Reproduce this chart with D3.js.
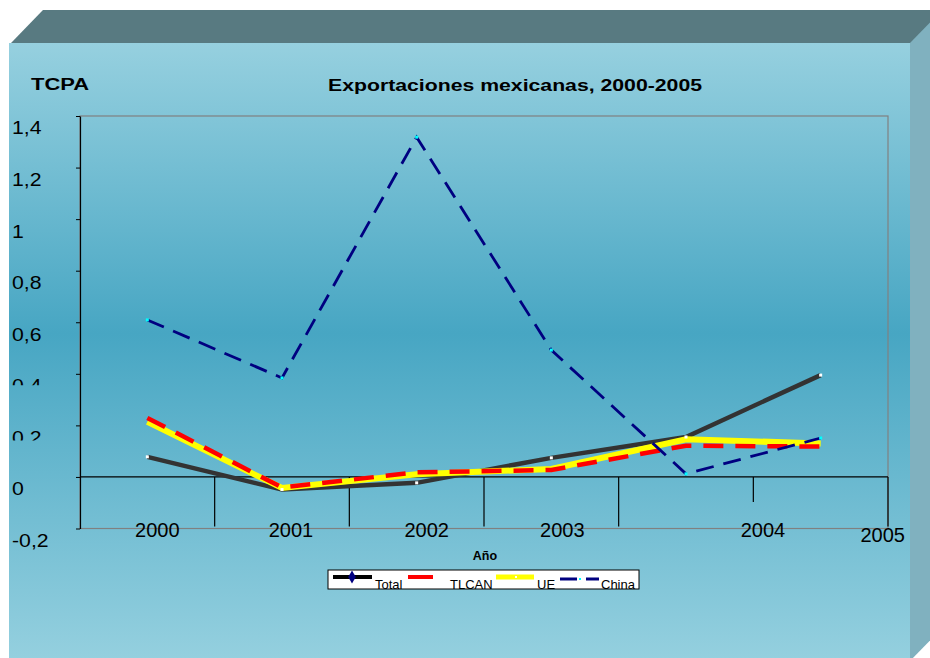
<!DOCTYPE html>
<html>
<head>
<meta charset="utf-8">
<script src="https://cdn.jsdelivr.net/npm/d3@7"></script>
<style>
  body { margin: 0; background: #fff; }
  text { font-family: "Liberation Sans", Arial, sans-serif; }
</style>
</head>
<body>
<script>
// datos
var years = ["2000", "2001", "2002", "2003", "2004", "2005"];
var total = [0.078, -0.049, -0.023, 0.074, 0.155, 0.395];
var tlcan = [0.229, -0.041, 0.018, 0.027, 0.121, 0.118];
var ue    = [0.214, -0.043, 0.010, 0.031, 0.146, 0.130];
var china = [0.609, 0.384, 1.318, 0.492, 0.012, 0.151];
var yTicks = [1.4, 1.2, 1, 0.8, 0.6, 0.4, 0.2, 0, -0.2];
var yTickLabels = ["1,4", "1,2", "1", "0,8", "0,6", "0,4", "0,2", "0", "-0,2"];
var seriesNames = ["Total", "TLCAN", "UE", "China"];

chart();

function chart ()
{
    var width = 930, height = 658;
    var pLeft = 80, pRight = 888, pTop = 116, pBottom = 528.5;

    var svg = d3.select("body").append("svg")
        .attr("width", width)
        .attr("height", height);
    var defs = svg.append("defs");

    var grad = defs.append("linearGradient")
        .attr("id", "face")
        .attr("x1", 0).attr("y1", 0).attr("x2", 0).attr("y2", 1);
    grad.append("stop").attr("offset", "0").attr("stop-color", "#96d0df");
    grad.append("stop").attr("offset", "0.47").attr("stop-color", "#47a6c3");
    grad.append("stop").attr("offset", "1").attr("stop-color", "#95d0df");

    // caja 3d
    svg.append("polygon")
        .attr("points", "11,43 43,10 942,10 942,43")
        .attr("fill", "#587a81");
    svg.append("polygon")
        .attr("points", "910,43 942,10 942,628 910,661")
        .attr("fill", "#80b1bf");
    svg.append("rect")
        .attr("x", 9).attr("y", 43)
        .attr("width", 901).attr("height", 618)
        .attr("fill", "url(#face)");

    var xScale = d3.scaleBand().domain(years).range([pLeft, pRight]);
    var yScale = d3.scaleLinear().domain([-0.2, 1.4]).range([pBottom, pTop]);
    var bw = xScale.bandwidth();
    var cx = function (i) { return xScale(years[i]) + bw / 2; };

    // borde del area de trazado
    svg.append("rect")
        .attr("x", pLeft).attr("y", pTop)
        .attr("width", pRight - pLeft).attr("height", pBottom - pTop)
        .attr("fill", "none")
        .attr("stroke", "#808080")
        .attr("stroke-width", 1.2);

    // eje y
    var yAxis = d3.axisLeft(yScale)
        .tickValues(yTicks)
        .tickSize(4)
        .tickSizeOuter(0)
        .tickFormat(function (d, i) { return yTickLabels[i]; });
    var gy = svg.append("g")
        .attr("transform", "translate(" + pLeft + ",0)")
        .call(yAxis);
    gy.select(".domain").attr("stroke", "#000").attr("stroke-width", 1.2);
    gy.selectAll(".tick line").attr("stroke", "#000");
    var sx = 1.18;
    gy.selectAll(".tick text")
        .attr("text-anchor", "start")
        .attr("x", -68 / sx)
        .attr("y", 18)
        .attr("dy", null)
        .attr("transform", "scale(" + sx + ",1)")
        .attr("fill", "#000")
        .style("font-size", "18px")
        .style("font-family", "'Liberation Sans', Arial, sans-serif");

    // etiquetas 0,4 y 0,2 cortadas por abajo como en el original
    [[0.4, 11], [0.2, 14.7]].forEach(function (c, k) {
        var id = "cut" + k;
        defs.append("clipPath").attr("id", id)
            .append("rect")
            .attr("x", -80).attr("y", -20)
            .attr("width", 80).attr("height", 20 + c[1]);
        gy.selectAll(".tick")
            .filter(function (d) { return d === c[0]; })
            .select("text")
            .attr("clip-path", "url(#" + id + ")");
    });

    // linea cero y marcas de categoria
    var y0 = yScale(0);
    svg.append("line")
        .attr("x1", pLeft).attr("x2", pRight)
        .attr("y1", y0).attr("y2", y0)
        .attr("stroke", "#000").attr("stroke-width", 1.2);
    svg.selectAll(".xtick")
        .data(years)
        .enter()
        .append("line")
        .attr("class", "xtick")
        .attr("x1", function (d) { return xScale(d) + bw; })
        .attr("x2", function (d) { return xScale(d) + bw; })
        .attr("y1", y0)
        .attr("y2", function (d, i) { return i === 4 ? y0 + 25 : pBottom - 2; })
        .attr("stroke", "#000").attr("stroke-width", 1.2);

    var labelShift = [10, 9, 10, 11, 77, 62];
    var labelBase = [537, 537, 537, 537, 537, 542];
    svg.selectAll(".xlab")
        .data(years)
        .enter()
        .append("text")
        .attr("class", "xlab")
        .attr("x", function (d, i) { return cx(i) + labelShift[i]; })
        .attr("y", function (d, i) { return labelBase[i]; })
        .attr("text-anchor", "middle")
        .style("font-size", "20px")
        .text(function (d) { return d; });

    // lineas
    var line = d3.line()
        .x(function (d, i) { return cx(i); })
        .y(function (d) { return yScale(d); });

    svg.append("path")
        .attr("d", line(total))
        .attr("fill", "none")
        .attr("stroke", "#333")
        .attr("stroke-width", 4.5);
    svg.append("path")
        .attr("d", line(ue))
        .attr("fill", "none")
        .attr("stroke", "#ffff00")
        .attr("stroke-width", 6);
    svg.append("path")
        .attr("d", line(tlcan))
        .attr("fill", "none")
        .attr("stroke", "#ff0000")
        .attr("stroke-width", 4.5)
        .attr("stroke-dasharray", "20,12");
    svg.append("path")
        .attr("d", line(china))
        .attr("fill", "none")
        .attr("stroke", "#000080")
        .attr("stroke-width", 2.8)
        .attr("stroke-dasharray", "18,10");

    // marcadores pequenos
    svg.selectAll(".mt")
        .data(total)
        .enter()
        .append("rect")
        .attr("class", "mt")
        .attr("x", function (d, i) { return cx(i) - 1.5; })
        .attr("y", function (d) { return yScale(d) - 1.5; })
        .attr("width", 3).attr("height", 3)
        .attr("fill", "#fff");
    svg.selectAll(".mc")
        .data(china)
        .enter()
        .append("rect")
        .attr("class", "mc")
        .attr("x", function (d, i) { return cx(i) - 1.5; })
        .attr("y", function (d) { return yScale(d) - 1.5; })
        .attr("width", 3).attr("height", 3)
        .attr("fill", "#00ffff");

    // titulos
    svg.append("text")
        .attr("x", 328).attr("y", 91)
        .attr("textLength", 374)
        .attr("lengthAdjust", "spacingAndGlyphs")
        .style("font-size", "16.5px")
        .style("font-weight", "bold")
        .text("Exportaciones mexicanas, 2000-2005");
    svg.append("text")
        .attr("x", 31).attr("y", 90)
        .attr("textLength", 58)
        .attr("lengthAdjust", "spacingAndGlyphs")
        .style("font-size", "16px")
        .style("font-weight", "bold")
        .text("TCPA");
    svg.append("text")
        .attr("x", 485).attr("y", 560)
        .attr("text-anchor", "middle")
        .style("font-size", "12.5px")
        .style("font-weight", "bold")
        .text("Año");

    // leyenda
    var lg = svg.append("g");
    lg.append("rect")
        .attr("x", 328).attr("y", 570)
        .attr("width", 311).attr("height", 19)
        .attr("fill", "#fff")
        .attr("stroke", "#000")
        .attr("stroke-width", 1);
    lg.append("line")
        .attr("x1", 333).attr("x2", 372).attr("y1", 577).attr("y2", 577)
        .attr("stroke", "#000").attr("stroke-width", 4);
    lg.append("path")
        .attr("d", d3.symbol(d3.symbolDiamond, 50)())
        .attr("transform", "translate(352,577)")
        .attr("fill", "#000080");
    lg.append("line")
        .attr("x1", 408).attr("x2", 433).attr("y1", 577).attr("y2", 577)
        .attr("stroke", "#ff0000").attr("stroke-width", 4);
    lg.append("line")
        .attr("x1", 496).attr("x2", 534).attr("y1", 577).attr("y2", 577)
        .attr("stroke", "#ffff00").attr("stroke-width", 5);
    lg.append("rect")
        .attr("x", 515).attr("y", 576).attr("width", 2).attr("height", 2)
        .attr("fill", "#fff");
    lg.append("line")
        .attr("x1", 560).attr("x2", 599).attr("y1", 579).attr("y2", 579)
        .attr("stroke", "#000080").attr("stroke-width", 3)
        .attr("stroke-dasharray", "17,9");
    lg.append("rect")
        .attr("x", 579).attr("y", 578).attr("width", 2).attr("height", 2)
        .attr("fill", "#00ffff");
    var legX = [375, 450, 537, 601];
    lg.selectAll(".lt")
        .data(seriesNames)
        .enter()
        .append("text")
        .attr("class", "lt")
        .attr("x", function (d, i) { return legX[i]; })
        .attr("y", 589)
        .style("font-size", "13px")
        .text(function (d) { return d; });
}
</script>
</body>
</html>
